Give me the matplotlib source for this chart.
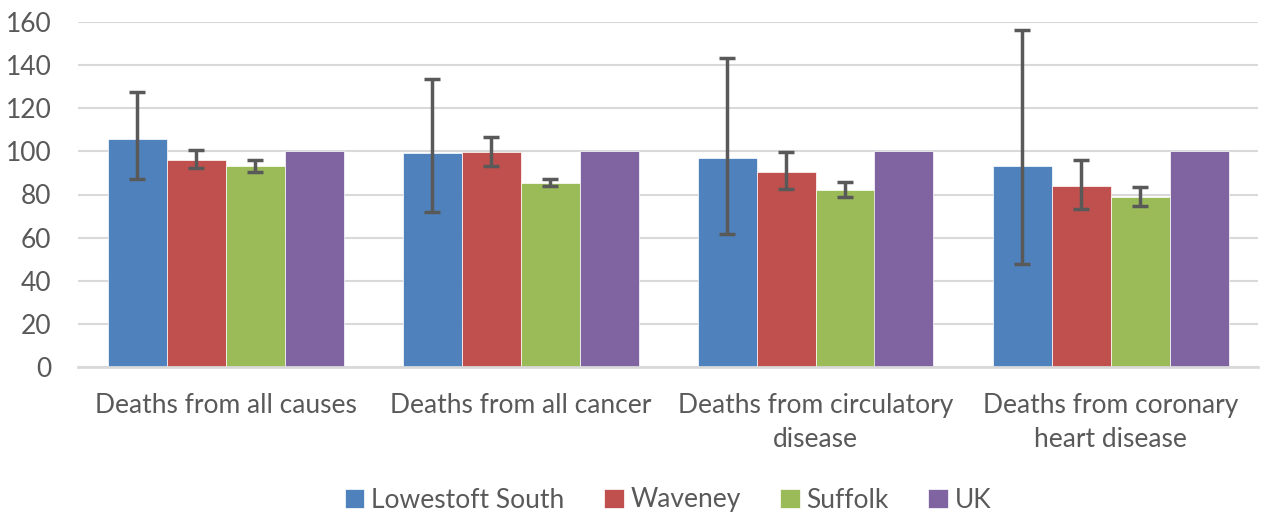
import matplotlib.pyplot as plt
import numpy as np

categories = ['Deaths from all causes', 'Deaths from all cancer',
              'Deaths from circulatory\ndisease', 'Deaths from coronary\nheart disease']
series = ['Lowestoft South', 'Waveney', 'Suffolk', 'UK']
colors = ['#4F81BD', '#C0504D', '#9BBB59', '#8064A2']

lowestoft = [105.7, 99.1, 96.8, 93.1]
lowestoft_lo = [87.2, 72.0, 61.7, 47.6]
lowestoft_hi = [127.5, 133.4, 143.2, 156.2]
waveney = [96.0, 99.8, 90.6, 84.0]
waveney_lo = [92.1, 93.1, 82.4, 73.1]
waveney_hi = [100.6, 106.5, 99.9, 96.0]
suffolk = [93.2, 85.3, 82.3, 78.8]
suffolk_lo = [90.4, 83.8, 79.0, 74.5]
suffolk_hi = [96.0, 87.3, 86.0, 83.6]
uk = [100, 100, 100, 100]

plt.rcParams['font.family'] = ['Lato', 'DejaVu Sans']
fig = plt.figure(figsize=(12.61, 5.13), dpi=100)
ax = fig.add_axes([78/1261, 146/513, 1180/1261, 345/513])

x = np.arange(len(categories))
w = 0.2
vals = [lowestoft, waveney, suffolk, uk]
errs = [(lowestoft_lo, lowestoft_hi), (waveney_lo, waveney_hi), (suffolk_lo, suffolk_hi), None]
for i, (name, v, c, e) in enumerate(zip(series, vals, colors, errs)):
    pos = x + (i - 1.5) * w
    ax.bar(pos, v, width=w, color=c, label=name, edgecolor='white', linewidth=0.5, zorder=2)
    if e is not None:
        lo, hi = e
        yerr = [np.array(v) - np.array(lo), np.array(hi) - np.array(v)]
        ax.errorbar(pos, v, yerr=yerr, fmt='none', ecolor='#595959', elinewidth=2.5,
                    capsize=6, capthick=2.5, zorder=3)

ax.set_xlim(-0.5, 3.5)
ax.set_ylim(0, 160)
ax.set_yticks(range(0, 161, 20))
ax.yaxis.grid(True, color='#D9D9D9', linewidth=1.5, zorder=0)
ax.set_axisbelow(True)
for s in ['top', 'right', 'left']:
    ax.spines[s].set_visible(False)
ax.spines['bottom'].set_color('#D9D9D9')
ax.spines['bottom'].set_linewidth(2)
ax.set_xticks(x, categories)
ax.tick_params(axis='both', length=0, labelsize=19, colors='#595959')
ax.tick_params(axis='y', pad=19)
ax.tick_params(axis='x', pad=19)
for t in ax.get_xticklabels():
    t.set_linespacing(1.45)

ax.legend(loc='center', bbox_to_anchor=(0.5, (513 - 500 - 146) / 345), ncol=4, frameon=False,
          fontsize=19, labelcolor='#595959', handlelength=0.75, handleheight=0.75,
          handletextpad=0.25, columnspacing=1.5)

fig.savefig('out.png', dpi=100)
